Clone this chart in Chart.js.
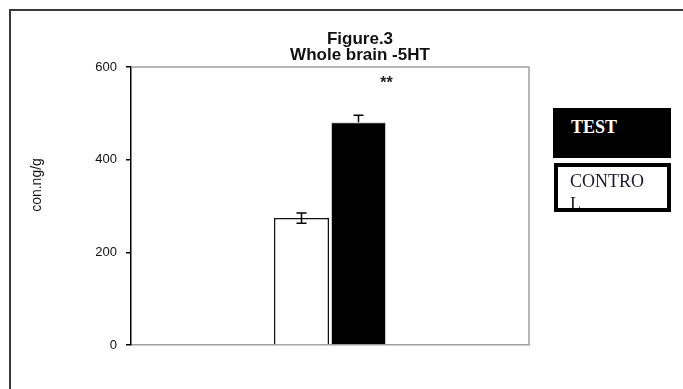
<!DOCTYPE html>
<html>
<head>
<meta charset="utf-8">
<script src="https://cdn.jsdelivr.net/npm/chart.js@4.4.1/dist/chart.umd.min.js"></script>
<style>
  html, body { margin: 0; padding: 0; background: #fff; }
  #wrap { position: relative; width: 683px; height: 389px; overflow: hidden; }
  #frame { position: absolute; left: 9px; top: 9px; width: 700px; height: 400px;
           border-left: 2px solid #3a3a3a; border-top: 2px solid #3a3a3a; }
  canvas { position: absolute; left: 0; top: 0; }
  .key { position: absolute; box-sizing: border-box; font-family: "Liberation Serif", "DejaVu Serif", serif;
         font-size: 18px; line-height: 23px; overflow: hidden; }
  #keyTest { left: 553px; top: 108px; width: 118px; height: 50px; background: #000; color: #fff;
             font-weight: bold; padding: 8px 0 0 18px; }
  #keyCtrl { left: 554px; top: 163px; width: 117px; height: 49px; background: #fff; border: 4px solid #000;
             color: #1a1a2a; padding: 3px 17px 0 12px; word-break: break-all; }
</style>
</head>
<body>
<div id="wrap">
  <div id="frame"></div>
  <canvas id="c" width="683" height="389"></canvas>
  <div class="key" id="keyTest">TEST</div>
  <div class="key" id="keyCtrl">CONTROL</div>
</div>
<script>
// Whole-brain serotonin content, mean ± SE
const categories = [''];
const controlValues = [274];
const controlErrors = [11];
const testValues = [481];
const testErrors = [15];
const yTicks = [0, 200, 400, 600];
const significance = '**';
const titleLines = ['Figure.3', 'Whole brain -5HT'];
const yAxisTitle = 'con.ng/g';

// Draws the SE whiskers, the plot frame, titles and the significance mark
const extrasPlugin = {
  id: 'extras',
  afterDatasetsDraw(chart) {
    const ctx = chart.ctx;
    const y = chart.scales.y;
    const area = chart.chartArea;
    const errs = [controlErrors, testErrors];
    const vals = [controlValues, testValues];
    ctx.save();
    ctx.strokeStyle = '#000';
    ctx.lineWidth = 1.5;
    chart.data.datasets.forEach((ds, di) => {
      chart.getDatasetMeta(di).data.forEach((bar, i) => {
        const v = vals[di][i], e = errs[di][i];
        const yTop = y.getPixelForValue(v + e);
        const yBot = y.getPixelForValue(v - e);
        const cap = 5;
        ctx.beginPath();
        ctx.moveTo(bar.x, yTop); ctx.lineTo(bar.x, di === 1 ? bar.y : yBot);
        ctx.moveTo(bar.x - cap, yTop); ctx.lineTo(bar.x + cap, yTop);
        if (di === 0) { ctx.moveTo(bar.x - cap, yBot); ctx.lineTo(bar.x + cap, yBot); }
        ctx.stroke();
      });
    });
    // top and right edges of the plot box
    ctx.strokeStyle = '#a0a0a0';
    ctx.lineWidth = 1.5;
    ctx.beginPath();
    ctx.moveTo(area.left, area.top); ctx.lineTo(area.right, area.top); ctx.lineTo(area.right, area.bottom);
    ctx.stroke();

    // significance mark above the test bar
    const tb = chart.getDatasetMeta(1).data[0];
    ctx.fillStyle = '#222';
    ctx.font = 'bold 16px "Liberation Sans", Arial, sans-serif';
    ctx.textAlign = 'center';
    ctx.textBaseline = 'alphabetic';
    ctx.fillText(significance, tb.x + 28, area.top + 21);

    // two-line heading
    ctx.fillStyle = '#111';
    ctx.font = 'bold 17px "Liberation Sans", Arial, sans-serif';
    const cx = 360;
    ctx.fillText(titleLines[0], cx, 44);
    ctx.fillText(titleLines[1], cx, 60);

    // rotated value-axis title
    ctx.font = '14px "Liberation Sans", Arial, sans-serif';
    ctx.textBaseline = 'middle';
    ctx.translate(37, 185);
    ctx.rotate(-Math.PI / 2);
    ctx.fillText(yAxisTitle, 0, 0);
    ctx.restore();
  }
};

new Chart(document.getElementById('c'), {
  type: 'bar',
  data: {
    labels: categories,
    datasets: [
      { label: 'CONTROL', data: controlValues, backgroundColor: '#fff', borderColor: '#111', borderWidth: 1.5 },
      { label: 'TEST', data: testValues, backgroundColor: '#000', borderColor: '#c8c8c8', borderWidth: 1 }
    ]
  },
  options: {
    responsive: false,
    animation: false,
    devicePixelRatio: 1,
    layout: { padding: { left: 0, right: 154, top: 67, bottom: 44 } },
    datasets: { bar: { barPercentage: 0.965, categoryPercentage: 0.2864 } },
    plugins: {
      legend: { display: false },
      tooltip: { enabled: false },
      title: { display: false }
    },
    scales: {
      x: {
        grid: { display: false },
        ticks: { display: false },
        border: { display: true, color: '#a0a0a0', width: 1.5 },
        afterFit(s) { s.height = 0; }
      },
      y: {
        min: 0, max: 600,
        afterBuildTicks(s) { s.ticks = yTicks.map(v => ({ value: v })); },
        grid: { display: true, drawOnChartArea: false, drawTicks: true, tickLength: 5, color: '#000', lineWidth: 1.5 },
        border: { display: true, color: '#000', width: 1.5 },
        ticks: { color: '#111', padding: 9, font: { family: '"Liberation Sans", Arial, sans-serif', size: 13 } },
        title: { display: false },
        afterFit(s) { s.width = 131; }
      }
    }
  },
  plugins: [extrasPlugin]
});
</script>
</body>
</html>
